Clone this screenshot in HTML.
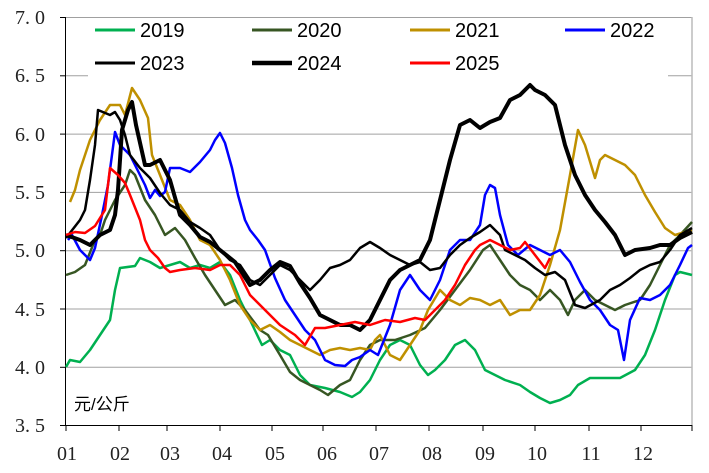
<!DOCTYPE html>
<html><head><meta charset="utf-8"><style>body{margin:0;background:#fff}svg{display:block}</style></head><body>
<svg width="709" height="473" viewBox="0 0 709 473" xmlns="http://www.w3.org/2000/svg">
<g stroke="#a0a0a0" stroke-width="1">
<line x1="65" y1="17.5" x2="692" y2="17.5"/><line x1="65" y1="75.8" x2="692" y2="75.8"/><line x1="65" y1="134.1" x2="692" y2="134.1"/><line x1="65" y1="192.4" x2="692" y2="192.4"/><line x1="65" y1="250.7" x2="692" y2="250.7"/><line x1="65" y1="309" x2="692" y2="309"/><line x1="65" y1="367.3" x2="692" y2="367.3"/>
<line x1="692" y1="17" x2="692" y2="425" stroke="#bbb" stroke-width="1.5"/>
</g>
<g stroke="#000" stroke-width="1">
<line x1="65.5" y1="17" x2="65.5" y2="426"/><line x1="65" y1="425.5" x2="692" y2="425.5"/>
<line x1="60" y1="17.5" x2="65" y2="17.5"/><line x1="60" y1="75.8" x2="65" y2="75.8"/><line x1="60" y1="134.1" x2="65" y2="134.1"/><line x1="60" y1="192.4" x2="65" y2="192.4"/><line x1="60" y1="250.7" x2="65" y2="250.7"/><line x1="60" y1="309" x2="65" y2="309"/><line x1="60" y1="367.3" x2="65" y2="367.3"/><line x1="60" y1="425.5" x2="65" y2="425.5"/>
<line x1="66" y1="425" x2="66" y2="431"/><line x1="119" y1="425" x2="119" y2="431"/><line x1="167" y1="425" x2="167" y2="431"/><line x1="220" y1="425" x2="220" y2="431"/><line x1="272" y1="425" x2="272" y2="431"/><line x1="323" y1="425" x2="323" y2="431"/><line x1="376" y1="425" x2="376" y2="431"/><line x1="429" y1="425" x2="429" y2="431"/><line x1="483" y1="425" x2="483" y2="431"/><line x1="535" y1="425" x2="535" y2="431"/><line x1="589" y1="425" x2="589" y2="431"/><line x1="641" y1="425" x2="641" y2="431"/><line x1="692" y1="425" x2="692" y2="431"/>
</g>
<g font-family="Liberation Serif, serif" font-size="20" fill="#222" text-anchor="end">
<text x="45" y="24">7. 0</text><text x="45" y="82">6. 5</text><text x="45" y="141">6. 0</text><text x="45" y="199">5. 5</text><text x="45" y="257">5. 0</text><text x="45" y="316">4. 5</text><text x="45" y="374">4. 0</text><text x="45" y="432">3. 5</text>
</g>
<g font-family="Liberation Serif, serif" font-size="20" fill="#222" text-anchor="middle">
<text x="67" y="460">01</text><text x="120" y="460">02</text><text x="170" y="460">03</text><text x="222" y="460">04</text><text x="275" y="460">05</text><text x="327" y="460">06</text><text x="379" y="460">07</text><text x="432" y="460">08</text><text x="485" y="460">09</text><text x="537" y="460">10</text><text x="591" y="460">11</text><text x="643" y="460">12</text>
</g>
<text x="74" y="410" font-family="Liberation Sans, Noto Sans CJK SC, sans-serif" font-size="17" fill="#000">元/公斤</text>
<g fill="none" stroke-linejoin="round" stroke-width="2.5">
<polyline stroke="#00b050" points="66,367 70,360 80,362 90,350 100,335 110,320 115,290 120,268 135,266 140,258 150,262 160,268 170,265 180,262 190,268 200,265 210,268 220,262 230,275 240,300 250,320 262,345 270,340 280,350 290,355 300,375 310,385 325,388 340,392 352,397 360,392 370,380 380,360 390,345 400,340 410,345 420,365 428,375 435,370 445,360 455,345 465,340 475,350 485,370 495,375 505,380 520,385 530,392 540,398 550,403 560,400 570,395 578,385 590,378 605,378 620,378 635,370 645,355 655,330 665,300 675,275 680,272 692,275"/>
<polyline stroke="#375623" points="66,275 75,272 85,265 95,240 100,235 105,220 115,200 125,185 130,170 135,175 145,200 155,215 165,235 175,228 185,240 195,258 205,275 215,290 225,305 235,300 245,310 260,330 268,335 280,355 290,372 300,380 310,385 320,390 328,395 340,385 350,380 360,360 370,345 380,340 395,340 410,335 425,328 440,310 455,290 470,270 483,250 490,245 500,260 510,275 520,285 530,290 540,300 550,290 560,300 568,315 575,300 585,290 595,300 605,305 615,310 625,305 640,300 650,285 660,265 670,245 680,235 692,222"/>
<polyline stroke="#bf9000" points="70,202 75,190 80,170 90,140 100,120 110,105 120,105 125,115 132,88 140,100 148,118 152,155 160,175 170,200 180,205 190,220 200,240 210,245 220,260 230,280 240,305 250,320 260,330 270,325 280,332 290,340 300,345 310,350 320,355 330,350 340,348 350,350 360,348 370,350 375,340 380,335 390,355 400,360 410,345 420,330 428,310 440,290 450,300 460,305 470,298 480,300 490,305 500,300 510,315 520,310 530,310 540,295 550,265 560,230 570,175 578,130 585,145 595,178 600,160 605,155 615,160 625,165 635,175 645,195 655,212 665,228 675,235 692,230"/>
<polyline stroke="#0000ff" points="68,240 72,235 80,250 90,260 95,248 102,215 108,185 115,132 120,145 130,155 140,175 145,185 150,198 155,190 160,196 165,192 170,168 180,168 190,172 200,162 210,150 215,140 220,133 225,143 232,168 238,195 245,220 250,230 258,240 265,250 275,278 285,300 295,315 305,330 315,340 325,360 335,365 345,366 352,360 360,357 370,350 378,355 390,325 400,290 410,275 420,290 430,300 440,280 450,250 460,240 470,240 480,225 485,195 490,185 495,188 500,215 508,245 518,255 530,245 540,250 550,255 560,250 570,262 580,282 590,300 600,310 610,325 618,330 624,360 630,320 640,298 650,300 660,295 670,285 680,265 688,248 692,245"/>
<polyline stroke="#000" points="66,238 80,220 85,210 90,180 95,145 98,110 110,115 115,112 120,120 125,135 130,155 140,168 150,178 160,193 170,205 180,210 190,222 200,228 210,235 220,250 230,260 240,265 250,280 260,285 270,275 280,265 290,270 300,280 310,290 320,280 330,268 340,265 350,260 360,248 370,242 380,248 390,255 400,260 410,265 420,262 430,270 440,268 450,255 460,245 470,238 480,232 490,225 500,235 505,250 515,255 525,260 535,268 545,275 555,272 565,280 575,305 585,308 600,300 610,290 620,285 630,278 640,270 650,265 660,262 670,250 680,235 692,228"/>
<polyline stroke="#000" stroke-width="4" points="66,235 80,240 90,245 100,235 110,230 115,215 118,190 122,130 128,110 132,102 136,125 145,165 150,165 160,160 170,180 180,215 190,225 200,237 210,242 220,250 235,262 250,285 260,280 270,270 280,262 290,266 300,283 310,298 320,315 330,320 340,325 350,325 360,330 370,320 380,300 390,280 400,270 410,265 420,260 430,240 440,200 450,160 460,125 470,120 480,128 490,122 500,118 510,100 520,95 530,85 535,90 545,95 555,105 565,145 575,175 585,195 595,210 605,222 615,235 625,255 635,250 650,248 660,245 670,245 680,238 692,232"/>
<polyline stroke="#ff0000" points="66,235 75,232 85,233 95,226 105,210 110,168 118,175 125,183 130,195 140,220 145,240 150,250 158,258 165,268 170,272 180,270 195,268 210,270 220,265 230,265 240,275 250,295 260,305 270,315 280,325 295,335 305,345 315,328 325,328 340,325 355,322 370,325 385,320 400,322 415,318 425,320 435,310 445,300 455,285 465,265 475,250 480,245 490,240 500,245 510,250 520,248 525,242 535,255 545,268 550,258"/>
</g>
<rect x="88" y="18" width="580" height="62" fill="#fff"/>
<g stroke-width="3">
<line x1="95" y1="30" x2="135" y2="30" stroke="#00b050"/>
<line x1="252" y1="30" x2="292" y2="30" stroke="#375623"/>
<line x1="410" y1="30" x2="450" y2="30" stroke="#bf9000"/>
<line x1="565" y1="30" x2="605" y2="30" stroke="#0000ff"/>
<line x1="95" y1="63" x2="135" y2="63" stroke="#000"/>
<line x1="252" y1="63" x2="292" y2="63" stroke="#000" stroke-width="4.5"/>
<line x1="410" y1="63" x2="450" y2="63" stroke="#ff0000"/>
</g>
<g font-family="Liberation Sans, sans-serif" font-size="20" fill="#000">
<text x="140" y="37">2019</text><text x="297" y="37">2020</text><text x="455" y="37">2021</text><text x="610" y="37">2022</text>
<text x="140" y="70">2023</text><text x="297" y="70">2024</text><text x="455" y="70">2025</text>
</g>
</svg>
</body></html>
